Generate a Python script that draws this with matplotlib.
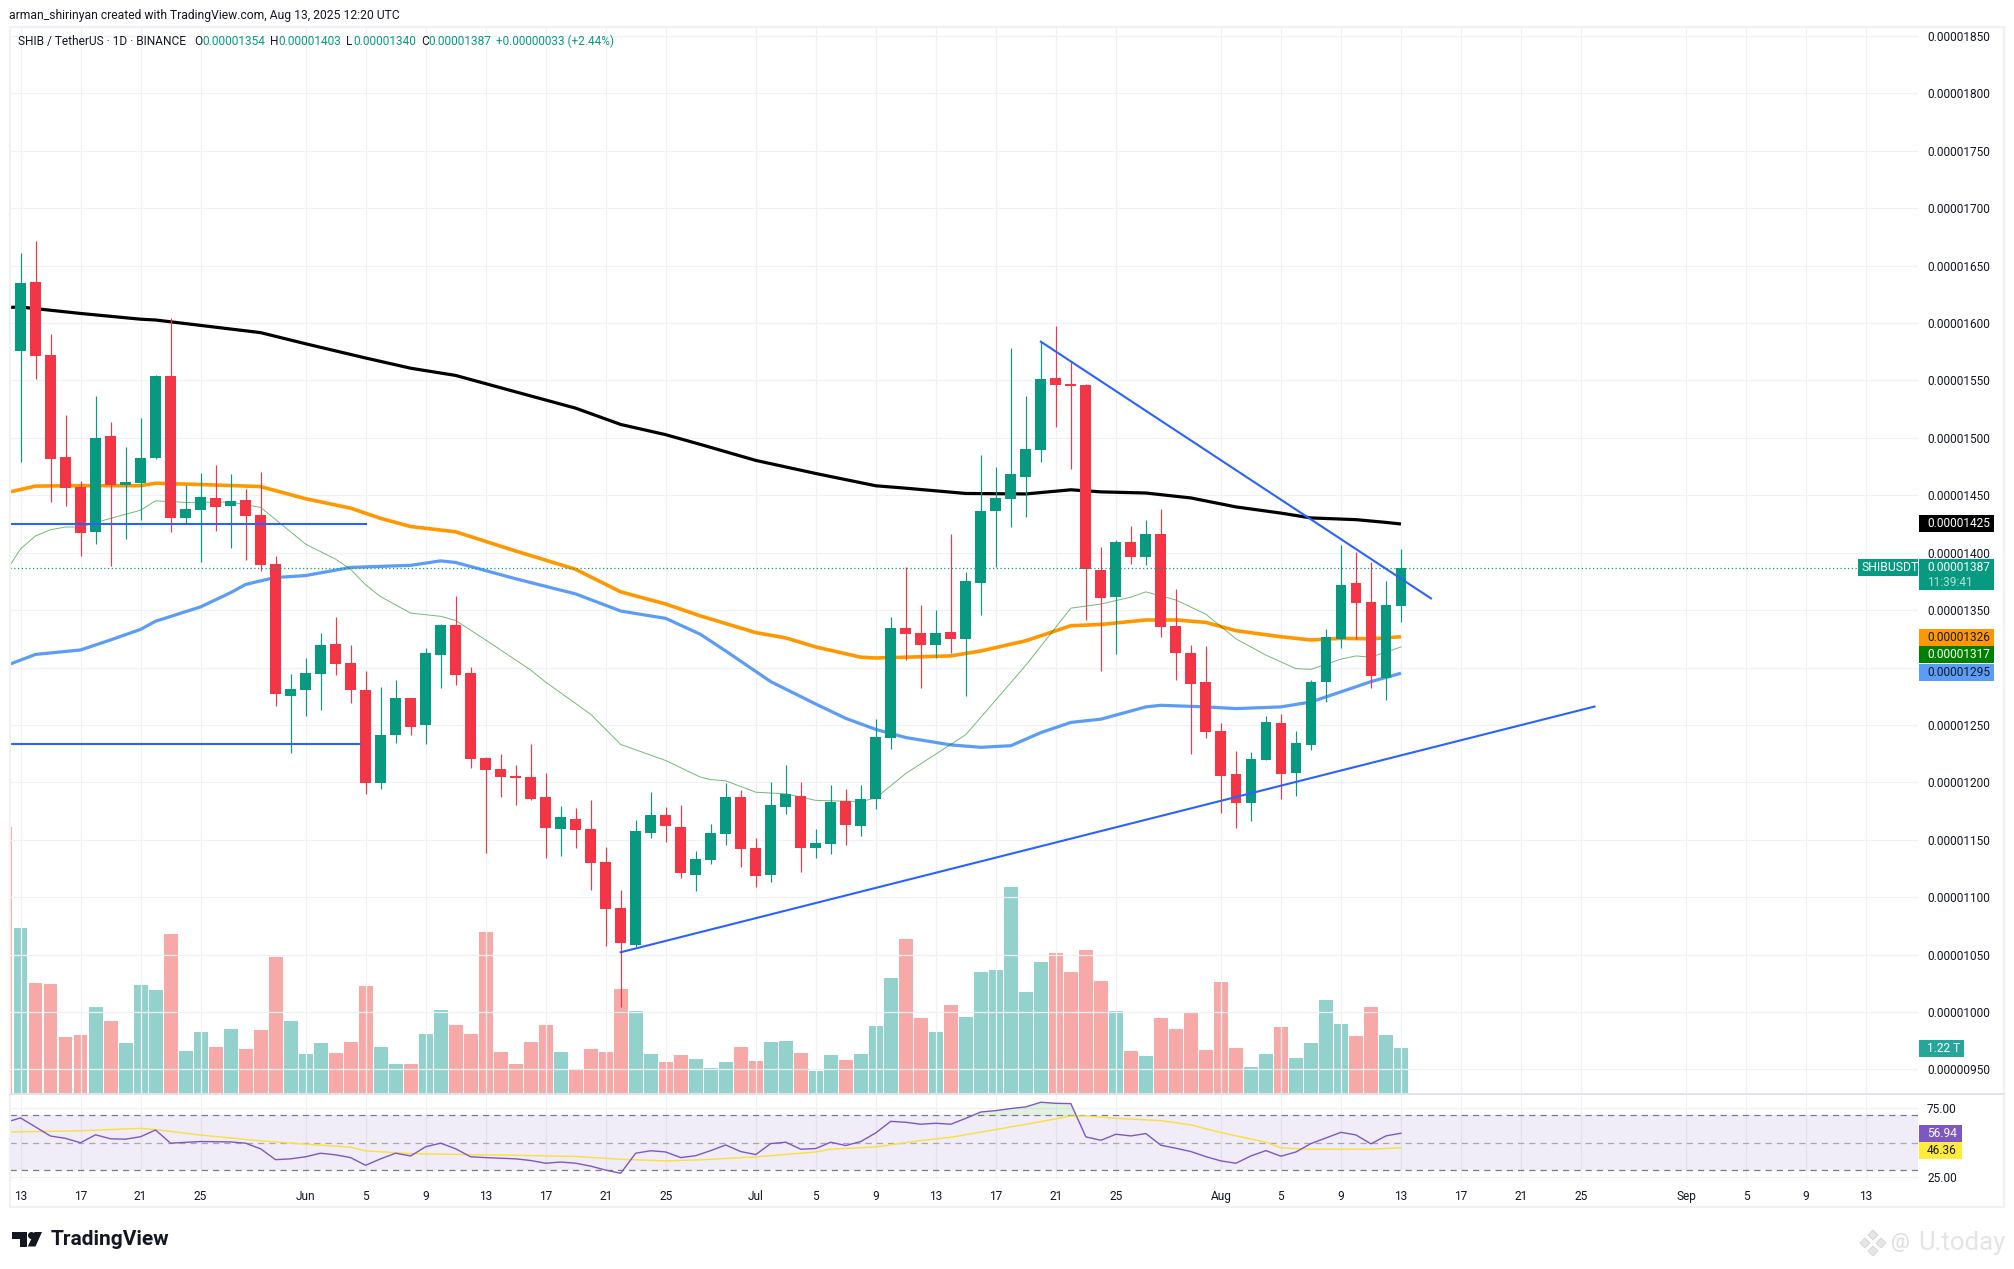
import matplotlib
matplotlib.use("Agg")
import matplotlib.pyplot as plt
import numpy as np
from matplotlib.patches import Circle, Polygon, Rectangle

plt.rcParams["font.family"] = ["Roboto", "DejaVu Sans"]

# prices are in units of 0.00000001, first candle is May 12 (index -1)
open_ = [1590.6, 1575.7, 1635.7, 1572, 1483.2, 1457.3, 1418.2, 1501.7, 1459, 1460.8, 1482.5, 1554, 1430.3, 1437.4, 1447.7,
         1440.6, 1445.9, 1432.8, 1390, 1275, 1280.3, 1294.3, 1320.5, 1304, 1280.3, 1199.5, 1241.1, 1273.3, 1249.8, 1311,
         1337, 1295.3, 1221.2, 1211.4, 1205.4, 1204.4, 1187.2, 1159.2, 1168, 1159.2, 1130.6, 1090.3, 1058.2, 1155.7, 1171.5,
         1161, 1119, 1132.4, 1155.1, 1187.1, 1142.7, 1119.2, 1178.6, 1188.2, 1142.7, 1146.2, 1183.9, 1161.9, 1185.3, 1238.6,
         1334.3, 1330, 1319.7, 1331, 1324.7, 1373.7, 1436.3, 1446.6, 1465.8, 1489.6, 1552.2, 1546.9, 1546.2, 1385.1, 1361.3,
         1409.3, 1396.1, 1416.4, 1336, 1312.6, 1287.4, 1244.7, 1207.4, 1182.1, 1219.5, 1251.8, 1208.1, 1232.6, 1287.4, 1324.7,
         1373.7, 1357, 1291.3, 1354]
high = [1595, 1661, 1671.7, 1590.6, 1519.9, 1462.6, 1536.6, 1513.8, 1492.1, 1517.4, 1555, 1604.8, 1459.4, 1469, 1476.5,
        1468.7, 1455.9, 1470.4, 1397.2, 1294.3, 1308.3, 1330, 1343.9, 1319.8, 1297, 1283.1, 1289, 1273.3, 1317, 1338,
        1362.4, 1300.6, 1221.9, 1224.7, 1214.9, 1233.4, 1207.9, 1179.2, 1177.4, 1184.4, 1143.5, 1106, 1166.9, 1191.4, 1178.5,
        1180.2, 1140, 1163.3, 1199.6, 1193.5, 1151.5, 1200.2, 1215.2, 1200.2, 1159.4, 1197.8, 1194.2, 1197.8, 1255, 1343.9,
        1387.2, 1354.6, 1350.3, 1416.4, 1383.3, 1485, 1474.7, 1578.1, 1536.6, 1583.8, 1597.3, 1566.8, 1547.2, 1405, 1411,
        1423.2, 1428.5, 1438, 1368.4, 1319.7, 1318.6, 1251.8, 1227.3, 1226.6, 1257.8, 1259.3, 1244.7, 1289.1, 1333.6, 1406.8,
        1400.8, 1391.9, 1375.5, 1403]
low = [1572, 1479, 1551, 1444, 1440.6, 1397.2, 1407.5, 1388, 1411.8, 1428.5, 1482, 1418.2, 1425.3, 1391.5, 1418.9,
       1404, 1393.6, 1383.7, 1266.3, 1225.4, 1257.9, 1263.1, 1293.6, 1269.1, 1189.7, 1194.2, 1234.1, 1241.1, 1233.4, 1282,
       1284.8, 1212.4, 1138.3, 1187.2, 1180.2, 1184.4, 1134.1, 1135.8, 1142.5, 1106, 1057.1, 1003.9, 1056.4, 1151.2, 1147.7,
       1116.6, 1105, 1128.8, 1145.5, 1126.3, 1108.9, 1113, 1172.5, 1122, 1134.1, 1137.7, 1145.5, 1153.3, 1176.8, 1229,
       1306.6, 1282, 1308.3, 1312.6, 1275.3, 1345.7, 1387.2, 1422.4, 1431, 1479, 1509.5, 1472.9, 1341.4, 1296.9, 1311.9,
       1390.1, 1389.4, 1326.5, 1289.1, 1224.8, 1238.6, 1173.2, 1160.1, 1166.5, 1219.5, 1185.3, 1188.2, 1228.3, 1270, 1316.9,
       1325, 1282, 1271.7, 1340]
close = [1575.7, 1635, 1571.4, 1481.5, 1456.2, 1417.1, 1499.9, 1459.1, 1461.6, 1482.5, 1554, 1430.3, 1438, 1448.4, 1439.9,
         1445.2, 1432, 1389.4, 1276.8, 1281.3, 1295.3, 1319.8, 1303, 1280.3, 1199.5, 1241.1, 1273.3, 1248.1, 1312.8, 1337,
         1293.6, 1220.1, 1210.7, 1204.4, 1203.7, 1185.5, 1160, 1169.7, 1158.2, 1129.5, 1089.3, 1059.9, 1157.5, 1171.5, 1161.7,
         1120.8, 1133, 1155.8, 1187.1, 1141.9, 1118.5, 1180.3, 1190, 1142.7, 1147.3, 1183.2, 1163, 1185.3, 1239.4, 1334.3,
         1329.3, 1319.7, 1330, 1324.7, 1375.5, 1436.3, 1447.7, 1468.7, 1490.3, 1551.1, 1546.2, 1545.1, 1385.8, 1360.6, 1409.3,
         1396.1, 1416.4, 1335.3, 1312.6, 1285.6, 1244, 1205.6, 1182.1, 1220.2, 1252.5, 1207.4, 1234.4, 1287.4, 1326.5, 1372,
         1356.3, 1292.7, 1354.5, 1387]
# volume in trillions
volume = [7.2, 4.46, 2.99, 2.96, 1.52, 1.58, 2.34, 1.96, 1.36, 2.94, 2.78, 4.32, 1.14, 1.66, 1.25, 1.74, 1.18, 1.72, 3.7,
          1.94, 1.07, 1.36, 1.09, 1.39, 2.91, 1.25, 0.79, 0.79, 1.61, 2.26, 1.83, 1.61, 4.37, 1.12, 0.79, 1.39, 1.85, 1.12,
          0.63, 1.18, 1.12, 2.83, 2.21, 1.07, 0.85, 1.03, 0.92, 0.68, 0.84, 1.25, 0.87, 1.38, 1.41, 1.08, 0.6, 1.03, 0.89,
          1.06, 1.82, 3.12, 4.17, 2.03, 1.65, 2.38, 2.06, 3.28, 3.33, 5.58, 2.74, 3.55, 3.79, 3.28, 3.87, 3.03, 2.22, 1.14,
          1.0, 2.03, 1.73, 2.19, 1.16, 3.01, 1.22, 0.7, 1.06, 1.79, 0.95, 1.35, 2.52, 1.87, 1.54, 2.33, 1.57, 1.22]

ma200_x = [-0.7, 0, 4, 8, 9, 12, 16, 19, 23, 26, 29, 33, 37, 40, 43, 45.4, 49, 53, 57, 59, 63, 67, 70, 72, 75, 78, 81, 84, 86, 89, 91, 92]
ma200 = [1613.7, 1614, 1608.4, 1603.4, 1602.7, 1598, 1591.7, 1582, 1569.6, 1560.7, 1554.4, 1540.1, 1525.9, 1511.7, 1502.8,
         1494, 1480.4, 1469, 1458.3, 1456.2, 1451.6, 1451.2, 1454.8, 1453, 1452, 1447.7, 1439.9, 1434.5, 1430.3, 1428.8, 1426.4, 1425]
ma100_x = [-0.7, 1, 4, 8, 9, 12, 16, 19, 22, 24, 26, 29, 33, 37, 40, 43, 45.3, 49, 51, 53, 56, 57, 59, 62, 64, 67, 70, 72, 75, 77, 79, 81, 84, 86, 88, 90, 92]
ma100 = [1453, 1458, 1458.4, 1458.4, 1460.5, 1459.4, 1457.6, 1447, 1438.8, 1429.9, 1422.8, 1418.2, 1401.5, 1385.5, 1365.9, 1355.3,
         1345, 1330.4, 1325.8, 1317.9, 1309, 1308.3, 1309, 1310.1, 1314.4, 1323.3, 1336.4, 1337.5, 1341.4, 1341.4, 1339.3, 1332.1,
         1326.8, 1324, 1325.4, 1325, 1326.8]
ma50_x = [-0.7, 1, 4, 6, 8, 9, 12, 14, 15, 16, 17, 19, 22, 26, 28, 29, 33, 37, 40, 43, 45.3, 47, 50, 53, 55, 57, 59, 62, 64, 66, 68, 70, 72, 75, 76, 79, 81, 84, 86, 88, 90, 92]
ma50 = [1303, 1311.4, 1315.3, 1324, 1333.2, 1340.3, 1352.8, 1365.2, 1372.3, 1375.5, 1378.4, 1380.1, 1387.2, 1389, 1392.9, 1391.5,
        1377.3, 1364.1, 1349.2, 1342.8, 1329, 1314.4, 1287.7, 1268.2, 1255.7, 1246.1, 1239, 1232.6, 1230.5, 1231.9, 1243.3, 1252.2,
        1255, 1265.7, 1267.1, 1265.7, 1264.2, 1265.7, 1270, 1278.8, 1287.7, 1295]
ma20_x = [-0.7, 0, 1, 2, 3, 4, 6, 8, 9, 11, 14, 16, 19, 21, 22, 23, 24, 26, 28, 29, 31, 34, 35, 38, 40, 43, 45.3, 46, 47, 49, 51, 53, 56, 57, 59, 63, 67, 70, 72, 74, 75, 77, 79, 81, 83, 85, 86, 88, 89, 90, 92]
ma20 = [1389, 1403.3, 1414.6, 1420, 1422.4, 1422.4, 1429.9, 1437, 1445.2, 1443.8, 1444.1, 1439.5, 1407.5, 1394.4, 1385.5, 1372, 1361.7,
        1347.4, 1344.6, 1341, 1324, 1297.8, 1287.3, 1259.3, 1233, 1219, 1204.6, 1202.4, 1201.3, 1191.4, 1190, 1184.3, 1183.2, 1186.4,
        1207.7, 1241.5, 1302, 1351.7, 1355.3, 1361.3, 1365.9, 1358.8, 1346.4, 1325, 1310.8, 1299, 1298.4, 1307.3, 1310.1, 1309, 1317.9]

rsi_x = [-0.7, 0, 2, 3, 4, 5, 6, 7, 8, 9, 10, 12] + list(range(14, 32)) + list(range(33, 93))
rsi = [65.8, 68.1, 54.9, 53.2, 50, 55.8, 52.9, 52.6, 54.4, 59.3, 49.7, 50.9, 50.6, 49.7, 45.6, 37.7, 38.3, 39.8, 42.4, 41.2,
       39.2, 33.6, 38.3, 42.4, 40.4, 47.1, 49.7, 45.6, 39.8, 39.2, 38.3, 37.1, 35.1, 36, 35.1, 33, 30.1, 27.8, 42.4, 44.2,
       43.3, 39.2, 40.6, 44.3, 48.4, 43.6, 41.4, 49.4, 50.4, 45.3, 45.8, 50.4, 48, 50.9, 57.2, 65.6, 64.9, 63.5, 64.2, 63.5,
       67.8, 72.4, 73.4, 74.9, 76.1, 79.5, 78.7, 78.5, 54.3, 51.8, 56.2, 55, 56.7, 48.2, 46, 43.6, 39.9, 36.8, 35.1, 40.4,
       44.3, 40.2, 43.3, 49.4, 53.5, 57.6, 55.7, 49.2, 55, 56.94]
rsi_ma_x = [-0.7, 4, 8, 9, 12, 16, 19, 22, 23, 26, 29, 33, 37, 40, 43, 45.3, 49, 53, 54, 57, 60, 62, 65, 68, 70, 71, 73, 76, 78, 80, 83, 84, 86, 90, 92]
rsi_ma = [57.9, 58.7, 60.5, 59.6, 55.6, 51.4, 49, 46.8, 44.1, 42.1, 41.5, 40.9, 40, 38, 36.8, 37.6, 39.7, 43.3, 45.3, 47, 51.6,
          54, 59.6, 65.4, 69.5, 69.5, 67.8, 66.1, 63, 57.4, 50.4, 46.3, 45.3, 45.3, 46.36]

# trend lines, (day index, price)
trend_up = [(40, 1052), (104.9, 1266)]
trend_down = [(68, 1583.8), (94, 1360.2)]
level_high = 1425.3
level_low = 1233.4

price_ticks = list(range(950, 1851, 50))
day_ticks = [0, 4, 8, 12, 19, 23, 27, 31, 35, 39, 43, 49, 53, 57, 61, 65, 69, 73, 80, 84, 88, 92, 96, 100, 104, 111, 115, 119, 123]
day_labels = ["13", "17", "21", "25", "Jun", "5", "9", "13", "17", "21", "25", "Jul", "5", "9", "13", "17", "21", "25",
              "Aug", "5", "9", "13", "17", "21", "25", "Sep", "5", "9", "13"]

GREEN = "#089981"
RED = "#f23645"
GRID = "#f0f1f4"
TEXT = "#131722"
W, H = 2014, 1269


def px_axes(left, top, right, bottom, **kw):
    return fig.add_axes([left / W, 1 - bottom / H, (right - left) / W, (bottom - top) / H], **kw)


fig = plt.figure(figsize=(W / 100, H / 100), dpi=100, facecolor="white")

PANE_L, PANE_R = 10, 1918
PANE_TOP, PANE_SEP, PANE_BOT = 27, 1093, 1180
xlim = ((PANE_L - 20.5) / 15.005, (PANE_R - 20.5) / 15.005)

# volume sits under the candles in the same pane
ax_vol = px_axes(PANE_L, PANE_TOP, PANE_R, PANE_SEP)
ax_vol.set_xlim(*xlim)
ax_vol.set_ylim(0, 28.9)
ax_vol.axis("off")

ax = px_axes(PANE_L, PANE_TOP, PANE_R, PANE_SEP)
ax.patch.set_alpha(0)
ax.set_xlim(*xlim)
ax.set_ylim(929.4, 1857.9)
for s in ax.spines.values():
    s.set_visible(False)

ax_rsi = px_axes(PANE_L, PANE_SEP + 1, PANE_R, PANE_BOT)
ax_rsi.set_xlim(*xlim)
ax_rsi.set_ylim(22.9, 85.5)
for s in ax_rsi.spines.values():
    s.set_visible(False)

x = np.arange(len(close)) - 1
op, hi, lo, cl = map(np.array, (open_, high, low, close))
up = cl >= op
colors = np.where(up, GREEN, RED)

ax_vol.set_zorder(0)
ax.set_zorder(1)
ax_vol.bar(x, volume, width=0.93, color=np.where(up, "#93d2cc", "#f7a9a7"), linewidth=0)

ax.set_yticks(price_ticks)
ax.set_yticklabels(["0.{:08d}".format(p) for p in price_ticks])
ax.yaxis.tick_right()
ax.tick_params(axis="y", length=0, pad=6.5, labelsize=8.6, labelcolor=TEXT)
ax.set_xticks(day_ticks)
ax.tick_params(axis="x", length=0, labelbottom=False)
ax.grid(True, color=GRID, linewidth=0.9, zorder=0)
ax.set_axisbelow(True)

ax.plot(ma200_x, ma200, color="#000000", linewidth=2.3, zorder=2, solid_capstyle="butt")
ax.plot(ma100_x, ma100, color="#ff9800", linewidth=2.6, zorder=2, solid_capstyle="butt")
ax.plot(ma50_x, ma50, color="#5b9cf6", linewidth=2.3, zorder=2, solid_capstyle="butt")
ax.plot(ma20_x, ma20, color="#008000", linewidth=0.7, alpha=0.55, zorder=2)

ax.vlines(x, lo, hi, colors=colors, linewidth=0.85, zorder=3)
ax.bar(x, np.maximum(np.abs(cl - op), 1), bottom=np.minimum(op, cl), width=0.72, color=colors, linewidth=0, zorder=4)

ax.plot(*zip(*trend_up), color="#2962ff", linewidth=1.5, zorder=5)
ax.plot(*zip(*trend_down), color="#2962ff", linewidth=1.5, zorder=5)
ax.plot([xlim[0], 23], [level_high, level_high], color="#2962ff", linewidth=1.5, zorder=5)
ax.plot([xlim[0], 22.6], [level_low, level_low], color="#2962ff", linewidth=1.5, zorder=5)
ax.plot([xlim[0], 122.4], [close[-1], close[-1]], color=GREEN, linewidth=0.9, linestyle=(0, (1, 2)), zorder=5)

# rsi pane
ax_rsi.set_xticks(day_ticks)
ax_rsi.set_xticklabels(day_labels)
ax_rsi.set_yticks([25, 75])
ax_rsi.set_yticklabels(["25.00", "75.00"])
ax_rsi.yaxis.tick_right()
ax_rsi.tick_params(axis="y", length=0, pad=6.5, labelsize=8.6, labelcolor=TEXT)
ax_rsi.tick_params(axis="x", length=0, pad=7.2, labelsize=8.6, labelcolor=TEXT)
ax_rsi.grid(True, color=GRID, linewidth=0.9, zorder=0)
ax_rsi.set_axisbelow(True)
ax_rsi.axhspan(30, 70, color="#7e57c2", alpha=0.11, linewidth=0, zorder=1)
for lev, col in ((70, "#787b86"), (50, "#a8a8b3"), (30, "#787b86")):
    ax_rsi.axhline(lev, color=col, linewidth=0.9, linestyle=(0, (5, 4)), zorder=2)
ax_rsi.plot(rsi_ma_x, rsi_ma, color="#fbdf3a", linewidth=1.0, zorder=3)
ax_rsi.plot(rsi_x, rsi, color="#7e57c2", linewidth=1.0, zorder=4)
ax_rsi.fill_between(rsi_x, 70, rsi, where=np.array(rsi) > 70, interpolate=True, color="#4caf50", alpha=0.16, linewidth=0, zorder=3)

# overlay in picture pixels for the frame, header, value tags and logos
ov = fig.add_axes([0, 0, 1, 1], zorder=5)
ov.set_xlim(0, W)
ov.set_ylim(H, 0)
ov.axis("off")
ov.patch.set_alpha(0)
ov.add_patch(Rectangle((10, 27), 1994, 1180, fill=False, edgecolor="#f0f1f3", linewidth=1.6))
ov.plot([10, 2004], [1093.5, 1093.5], color="#e0e3eb", linewidth=1.4)


def tag(x0, x1, y0, y1, color, label, text_color="white", tx=1927):
    ov.add_patch(Rectangle((x0, y0), x1 - x0, y1 - y0, facecolor=color, edgecolor="none"))
    ov.text(tx, (y0 + y1) / 2, label, color=text_color, fontsize=8.6, va="center", ha="left")


tag(1919, 1994, 515, 532, "#000000", "0.00001425", "white")
ov.add_patch(Rectangle((1858, 559), 60, 17, facecolor=GREEN, edgecolor="none"))
ov.text(1862, 567.5, "SHIBUSDT", color="white", fontsize=8.8, va="center", ha="left")
ov.add_patch(Rectangle((1919, 559), 75, 31, facecolor=GREEN, edgecolor="none"))
ov.text(1927, 567.5, "0.00001387", color="white", fontsize=8.6, va="center", ha="left")
ov.text(1927, 582, "11:39:41", color="#b5e0d8", fontsize=8.6, va="center", ha="left")
tag(1919, 1994, 629, 646, "#ff9800", "0.00001326", TEXT)
tag(1919, 1994, 646, 663, "#008000", "0.00001317", "white")
tag(1919, 1994, 664, 681, "#5b9cf6", "0.00001295", TEXT)
tag(1919, 1964, 1040, 1057, "#26a69a", "1.22 T", "white")
tag(1919, 1962, 1125, 1142, "#7e57c2", "56.94", "white")
tag(1919, 1962, 1142, 1159, "#ffeb3b", "46.36", TEXT)

ov.text(9, 15, "arman_shirinyan created with TradingView.com, Aug 13, 2025 12:20 UTC", color=TEXT, fontsize=8.75, va="center")
ov.text(18, 41.5, "SHIB / TetherUS · 1D · BINANCE", color=TEXT, fontsize=8.6, va="center")
for lx, name, vx, val in ((194, "O", 202, "0.00001354"), (270, "H", 278, "0.00001403"),
                          (346, "L", 353, "0.00001340"), (421, "C", 428, "0.00001387")):
    ov.text(lx, 41.5, name, color=TEXT, fontsize=8.6, va="center")
    ov.text(vx, 41.5, val, color=GREEN, fontsize=8.6, va="center")
ov.text(496, 41.5, "+0.00000033 (+2.44%)", color=GREEN, fontsize=8.5, va="center")

# TradingView mark and name
ov.add_patch(Polygon([(12, 1232), (27, 1232), (27, 1246.5), (20, 1246.5), (20, 1239), (12, 1239)], color="#131722", linewidth=0))
ov.add_patch(Circle((31.5, 1235.5), 3.5, color="#131722", linewidth=0))
ov.add_patch(Polygon([(34.5, 1232), (42, 1232), (35.5, 1246.5), (27.8, 1246.5)], color="#131722", linewidth=0))
ov.text(51, 1239.5, "TradingView", color="#131722", fontsize=15, fontweight="bold", va="center", ha="left")

# U.today watermark
for dx, dy in ((0, -8), (8, 0), (0, 8), (-8, 0)):
    cx, cy = 1873 + dx, 1243 + dy
    ov.add_patch(Polygon([(cx, cy - 5), (cx + 5, cy), (cx, cy + 5), (cx - 5, cy)], facecolor="#e6e6e6", edgecolor="#d2d2d2", linewidth=0.6))
ov.text(1891, 1243, "@", color="#dcdcdc", fontsize=15, va="center", ha="left")
ov.text(1918, 1243, "U.today", color="#e4e4e4", fontsize=18.5, va="center", ha="left")

fig.savefig("out.png", dpi=100)
